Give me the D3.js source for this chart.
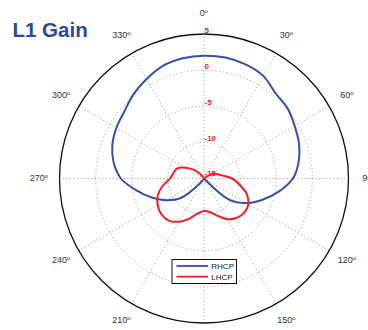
<!DOCTYPE html>
<html>
<head>
<meta charset="utf-8">
<script src="https://cdn.jsdelivr.net/npm/d3@7"></script>
<style>
  html, body { margin: 0; padding: 0; background: #fff; }
  svg { display: block; }
</style>
</head>
<body>
<svg id="chart" width="368" height="330"></svg>
<script>
// Azimuth in degrees, clockwise from north
const angles = [0, 10, 20, 30, 40, 50, 60, 70, 80, 90, 100, 110, 120, 130, 140, 150, 160, 170,
                180, 190, 200, 210, 220, 230, 240, 250, 260, 270, 280, 290, 300, 310, 320, 330, 340, 350];
// Gain in dB for each azimuth
const rhcp = [2.0, 2.0, 1.8, 1.4, 0.4, 0.1, -0.5, -1.0, -1.7, -2.7, -4.5, -6.4, -8.2, -10.4, -15.5, -18, -20, -20,
              -20, -20, -20, -18, -14.2, -10.8, -9.0, -7.3, -5.5, -3.5, -2.3, -1.5, -1.0, -0.6, 0.2, 0.9, 1.6, 1.9];
const lhcp = [-18, -20, -20, -20, -18, -15.5, -13.8, -13.2, -12.5, -11.1, -10.0, -8.7, -7.9, -7.7, -7.9, -8.5, -9.5, -10.3,
              -10.5, -10.1, -9.1, -8.1, -7.4, -7.3, -7.6, -8.2, -9.2, -10.3, -10.7, -11.0, -12.0, -13.1, -14.2, -15.5, -18, -19];
const seriesNames = ["RHCP", "LHCP"];
const seriesColors = ["#3650a6", "#ec2027"];
const rTicks = [5, 0, -5, -10, -15];
const ringTicks = [0, -5, -10];
const spokeAngles = [0, 30, 60, 90, 120, 150, 180, 210, 240, 270, 300, 330];
const titleText = "L1 Gain";

const svg = d3.select("#chart");
const cx = 204, cy = 178.5, R = 144.5;

const r = d3.scaleLinear().domain([-15, 5]).range([0, R]).clamp(true);
const toRad = d => d * Math.PI / 180;

const g = svg.append("g").attr("transform", `translate(${cx},${cy})`);

// Dotted range rings
g.selectAll("circle.ring").data(ringTicks).join("circle")
  .attr("class", "ring")
  .attr("r", d => r(d))
  .attr("fill", "none")
  .attr("stroke", "#8a8a8a")
  .attr("stroke-width", 0.9)
  .attr("stroke-dasharray", "1 2.6");

// Dotted spokes every 30 degrees
g.selectAll("line.spoke").data(spokeAngles).join("line")
  .attr("class", "spoke")
  .attr("x1", 0).attr("y1", 0)
  .attr("x2", d => R * Math.sin(toRad(d)))
  .attr("y2", d => -R * Math.cos(toRad(d)))
  .attr("stroke", "#8a8a8a")
  .attr("stroke-width", 0.9)
  .attr("stroke-dasharray", "1 2.6");

// Outer boundary
g.append("circle")
  .attr("r", R)
  .attr("fill", "none")
  .attr("stroke", "#111")
  .attr("stroke-width", 1.3);

// Angle labels
const angleLabels = g.selectAll("text.ang").data(spokeAngles).join("text")
  .attr("class", "ang")
  .attr("x", d => 165 * Math.sin(toRad(d)))
  .attr("y", d => -165 * Math.cos(toRad(d)))
  .attr("text-anchor", "middle")
  .attr("dominant-baseline", "middle")
  .attr("font-family", "Liberation Sans, Arial, sans-serif")
  .attr("font-size", 9)
  .attr("fill", "#333");
angleLabels.append("tspan").text(d => d);
angleLabels.append("tspan")
  .attr("font-size", 6)
  .attr("dy", -3)
  .text("o");

// Pattern curves
const line = d3.lineRadial()
  .angle(d => toRad(d[0]))
  .radius(d => r(d[1]))
  .curve(d3.curveCatmullRomClosed.alpha(0.5));

[rhcp, lhcp].forEach((vals, i) => {
  const pts = angles.map((a, k) => [a, vals[k]]);
  g.append("path")
    .attr("d", line(pts))
    .attr("fill", "none")
    .attr("stroke", seriesColors[i])
    .attr("stroke-width", 2)
    .attr("stroke-linejoin", "round");
});

// Range tick labels
g.selectAll("text.rt").data(rTicks).join("text")
  .attr("class", "rt")
  .attr("x", 0.5)
  .attr("y", d => -r(d) - (d === -15 ? 2.5 : 1.5))
  .attr("font-family", "Liberation Sans, Arial, sans-serif")
  .attr("font-size", 8)
  .attr("font-weight", "bold")
  .attr("fill", "#ec2027")
  .text(d => d);

// Title
svg.append("text")
  .attr("x", 12.5)
  .attr("y", 37)
  .attr("font-family", "Liberation Sans, Arial, sans-serif")
  .attr("font-size", 20.5)
  .attr("font-weight", "bold")
  .attr("fill", "#2e4896")
  .text(titleText);

// Legend
const lg = svg.append("g").attr("transform", "translate(172,259.5)");
lg.append("rect")
  .attr("width", 64.5).attr("height", 24)
  .attr("fill", "#fff")
  .attr("stroke", "#111")
  .attr("stroke-width", 1);
seriesNames.forEach((name, i) => {
  const y = 6.5 + i * 10.7;
  lg.append("line")
    .attr("x1", 4.5).attr("x2", 36)
    .attr("y1", y).attr("y2", y)
    .attr("stroke", seriesColors[i])
    .attr("stroke-width", 1.8);
  lg.append("text")
    .attr("x", 39.3)
    .attr("y", y + 2.8)
    .attr("font-family", "Liberation Sans, Arial, sans-serif")
    .attr("font-size", 8)
    .attr("fill", "#222")
    .text(name);
});
</script>
</body>
</html>
